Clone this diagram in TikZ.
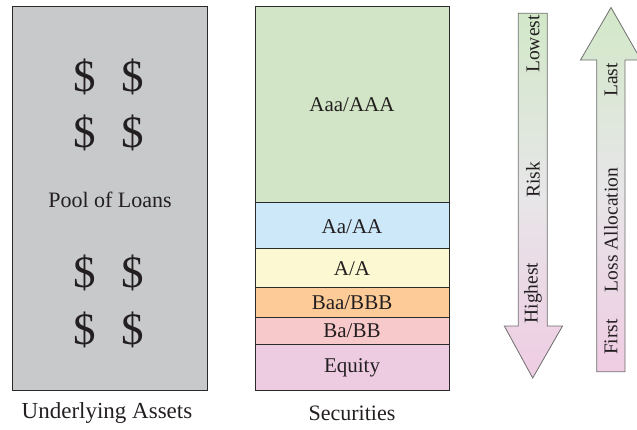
\documentclass[tikz,border=0pt]{standalone}
\usepackage{fontspec}
\setmainfont{Liberation Serif}
\definecolor{poolgray}{HTML}{C8C9CB}
\definecolor{cAaa}{HTML}{D2E5C6}
\definecolor{cAa}{HTML}{CDE8F9}
\definecolor{cA}{HTML}{FBF8D2}
\definecolor{cBaa}{HTML}{FDCB97}
\definecolor{cBa}{HTML}{F8C9CB}
\definecolor{cEq}{HTML}{EDCCE2}
\definecolor{gtop}{HTML}{D2E8C8}
\definecolor{gmid}{HTML}{E7E6E8}
\definecolor{gbot}{HTML}{EFCCE3}
\definecolor{edge}{HTML}{2A2A2A}
\definecolor{arrowedge}{HTML}{6E6E6E}
\definecolor{txt}{HTML}{231F20}
\begin{document}
\begin{tikzpicture}[x=1pt,y=-1pt,
  boxline/.style={draw=edge,line width=1pt},
  tranche/.style={boxline},
  biglabel/.style={text=txt,font=\fontsize{22}{26}\selectfont,inner sep=0pt},
  tlabel/.style={text=txt,font=\fontsize{21}{25}\selectfont,inner sep=0pt},
  alabel/.style={text=txt,font=\fontsize{19.5}{24}\selectfont,inner sep=0pt,rotate=90},
  dollar/.style={text=txt,font=\fontsize{45}{50}\selectfont,inner sep=0pt},
  bigarrow/.style={draw=arrowedge,line width=0.8pt,top color=gtop,bottom color=gbot,middle color=gmid}
]
\useasboundingbox (0,0) rectangle (637,429);
% pool of loans
\draw[boxline,fill=poolgray] (12.7,6) rectangle (207,390);
\node[dollar] (d1) at (85,76.5) {\$};
\node[dollar] (d2) at (133,76.5) {\$};
\node[dollar] (d3) at (85,132.5) {\$};
\node[dollar] (d4) at (133,132.5) {\$};
\node[biglabel] (pool) at (110,200) {Pool of Loans};
\node[dollar] (d5) at (85,273) {\$};
\node[dollar] (d6) at (133,273) {\$};
\node[dollar] (d7) at (85,330) {\$};
\node[dollar] (d8) at (133,330) {\$};
\node[biglabel,font=\fontsize{23}{27}\selectfont] (under) at (107,413) {Underlying Assets};
% securities
\draw[tranche,fill=cAaa] (255,6) rectangle (449,202);
\draw[tranche,fill=cAa] (255,202) rectangle (449,248);
\draw[tranche,fill=cA] (255,248) rectangle (449,287);
\draw[tranche,fill=cBaa] (255,287) rectangle (449,317);
\draw[tranche,fill=cBa] (255,317) rectangle (449,344);
\draw[tranche,fill=cEq] (255,344) rectangle (449,390);
\node[tlabel] (aaa) at (352,105) {Aaa/AAA};
\node[tlabel] (aa) at (352,227) {Aa/AA};
\node[tlabel] (a) at (352,269) {A/A};
\node[tlabel] (baa) at (352,303) {Baa/BBB};
\node[tlabel] (ba) at (352,331) {Ba/BB};
\node[tlabel] (eq) at (352,368) {Equity};
\node[biglabel] (sec) at (352,413) {Securities};
% risk arrow (down)
\shade[bigarrow] (518.3,13.3) -- (547.3,13.3) -- (547.3,326) -- (562.5,326)
  -- (532.7,378) -- (504.3,326) -- (518.3,326) -- cycle;
\node[alabel] (lowest) at (533,44) {Lowest};
\node[alabel] (risk) at (533,180) {Risk};
\node[alabel] (highest) at (533,293) {Highest};
% loss allocation arrow (up)
\shade[bigarrow] (596.7,371.7) -- (625,371.7) -- (625,60) -- (641,60)
  -- (611,7.5) -- (580.5,60) -- (596.7,60) -- cycle;
\node[alabel] (last) at (611,80) {Last};
\node[alabel] (lossalloc) at (611,230) {Loss Allocation};
\node[alabel] (first) at (611,337) {First};
\end{tikzpicture}
\end{document}
